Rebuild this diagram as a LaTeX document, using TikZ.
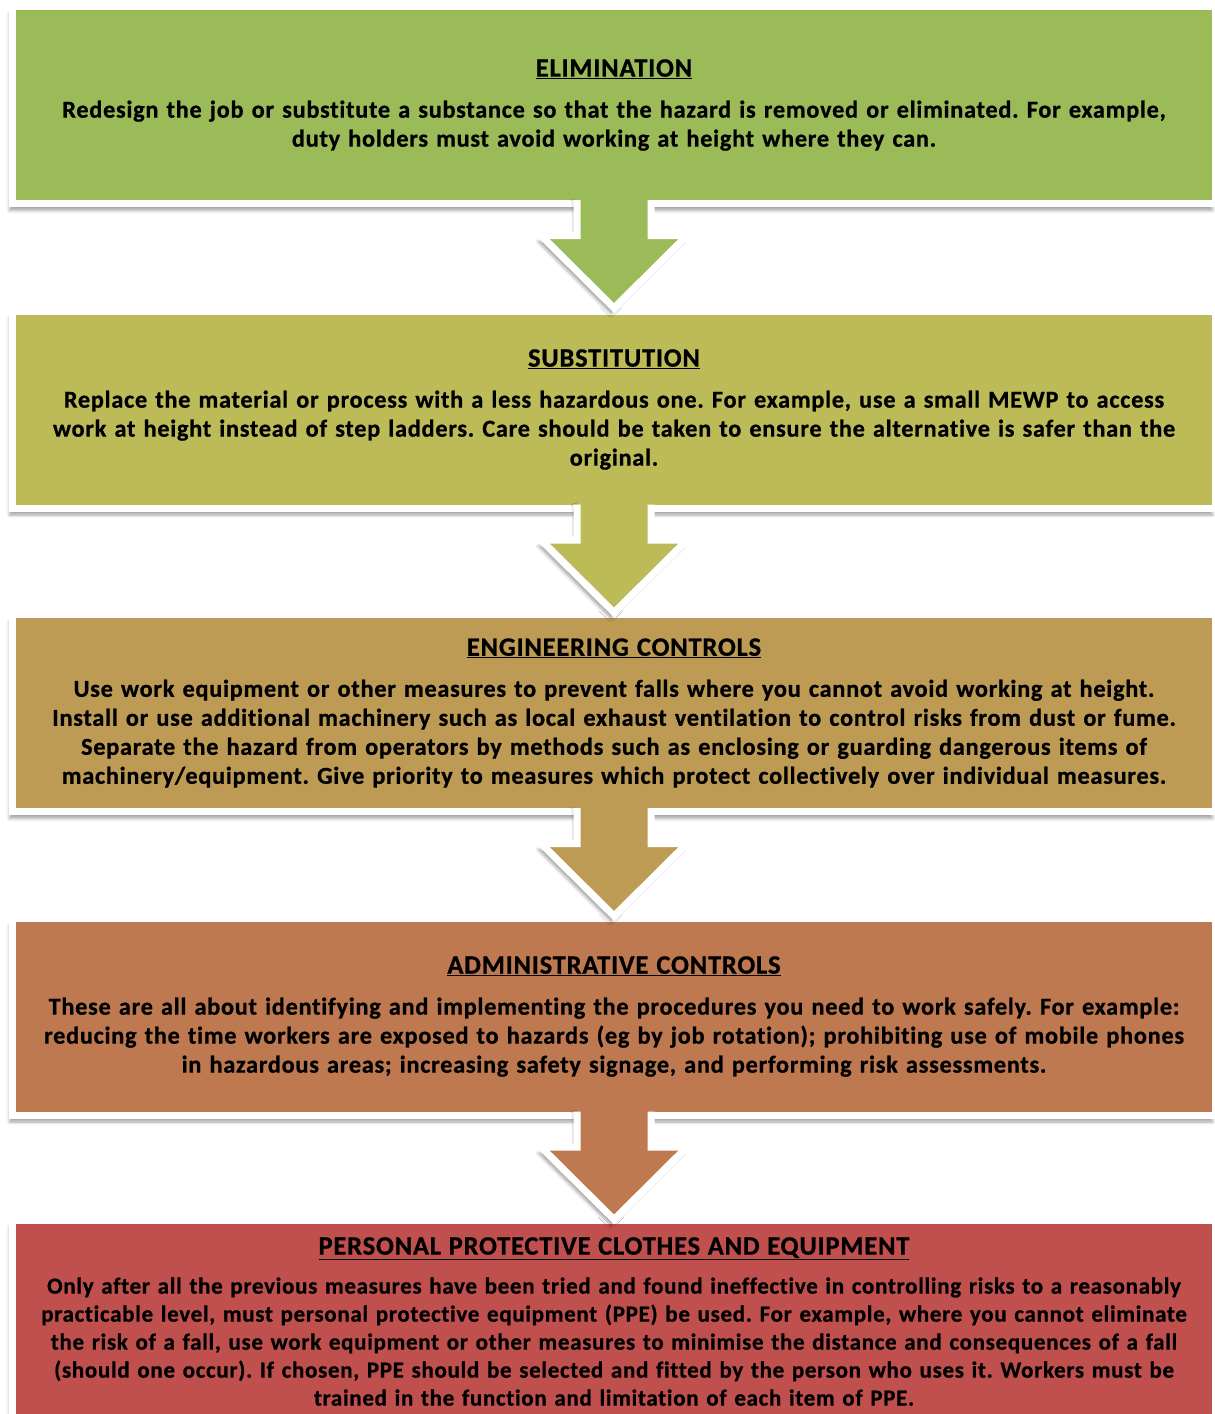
\documentclass[tikz,border=0pt]{standalone}
\usepackage{fontspec}
\setmainfont{Carlito}[LetterSpace=3.0, Ligatures=NoCommon, BoldFeatures={FakeBold=0.8}]
\usepackage{tikz}
\usetikzlibrary{calc,shadows.blur}
\definecolor{elimgreen}{RGB}{155,187,89}
\definecolor{substolive}{RGB}{188,187,88}
\definecolor{engintan}{RGB}{189,155,84}
\definecolor{admincopper}{RGB}{191,121,80}
\definecolor{ppered}{RGB}{192,80,77}
\newcommand{\headline}[1]{{\fontsize{26.5}{29}\selectfont\underline{#1}}}
\tikzset{
  control/.style = {shape=rectangle, draw=white, line width=7pt,
                    minimum width=1203pt, minimum height=197pt,
                    text width=1190pt, align=center, inner sep=0pt, outer sep=0pt,
                    font=\fontsize{24.3}{29}\selectfont\bfseries,
                    blur shadow={shadow xshift=-3pt, shadow yshift=-7pt,
                                 shadow blur radius=3pt, shadow opacity=35}},
  arrowshadow/.style = {blur shadow={shadow xshift=-3pt, shadow yshift=-6pt,
                                     shadow blur radius=3pt, shadow opacity=35}},
}
% block arrow hanging under a box
\newcommand{\stagearrow}[2]{%
  \fill[#2, arrowshadow]
    ($(#1.south)+(-37,-7.5)$) -- ++(0,39.5) -- ++(-36,0) -- ++(73,72.5)
    -- ++(73,-72.5) -- ++(-36,0) -- ++(0,-39.5) -- cycle;
  \draw[white, line width=7pt, line join=miter]
    ($(#1.south)+(-37,-3.5)$) -- ++(0,35.5) -- ++(-36,0) -- ++(73,72.5)
    -- ++(73,-72.5) -- ++(-36,0) -- ++(0,-35.5);
}
\frenchspacing

\begin{document}
\begin{tikzpicture}[x=1pt, y=-1pt]
  \useasboundingbox (0,0) rectangle (1215,1414);

  \node [control, fill=elimgreen] (elim) at (614,105)
    {\headline{ELIMINATION}\\[12pt]
     Redesign the job or substitute a substance so that the hazard is removed or eliminated. For example,\\
     duty holders must avoid working at height where they can.};
  \node [control, fill=substolive] (subst) at (614,409.5)
    {\headline{SUBSTITUTION}\\[12pt]
     Replace the material or process with a less hazardous one. For example, use a small MEWP to access\\
     work at height instead of step ladders. Care should be taken to ensure the alternative is safer than the\\
     original.};
  \node [control, fill=engintan] (engin) at (614,713)
    {\headline{ENGINEERING CONTROLS}\\[12pt]
     Use work equipment or other measures to prevent falls where you cannot avoid working at height.\\
     Install or use additional machinery such as local exhaust ventilation to control risks from dust or fume.\\
     Separate the hazard from operators by methods such as enclosing or guarding dangerous items of\\
     machinery/equipment. Give priority to measures which protect collectively over individual measures.};
  \node [control, fill=admincopper] (admin) at (614,1016.5)
    {\headline{ADMINISTRATIVE CONTROLS}\\[12pt]
     These are all about identifying and implementing the procedures you need to work safely. For example:\\
     reducing the time workers are exposed to hazards (eg by job rotation); prohibiting use of mobile phones\\
     in hazardous areas; increasing safety signage, and performing risk assessments.};
  \node [control, fill=ppered, minimum height=203pt, font=\fontsize{23}{28}\selectfont\bfseries] (ppe) at (614,1321.5)
    {\headline{PERSONAL PROTECTIVE CLOTHES AND EQUIPMENT}\\[11pt]
     Only after all the previous measures have been tried and found ineffective in controlling risks to a reasonably\\
     practicable level, must personal protective equipment (PPE) be used. For example, where you cannot eliminate\\
     the risk of a fall, use work equipment or other measures to minimise the distance and consequences of a fall\\
     (should one occur). If chosen, PPE should be selected and fitted by the person who uses it. Workers must be\\
     trained in the function and limitation of each item of PPE.};

  \stagearrow{elim}{elimgreen}
  \stagearrow{subst}{substolive}
  \stagearrow{engin}{engintan}
  \stagearrow{admin}{admincopper}
\end{tikzpicture}
\end{document}
